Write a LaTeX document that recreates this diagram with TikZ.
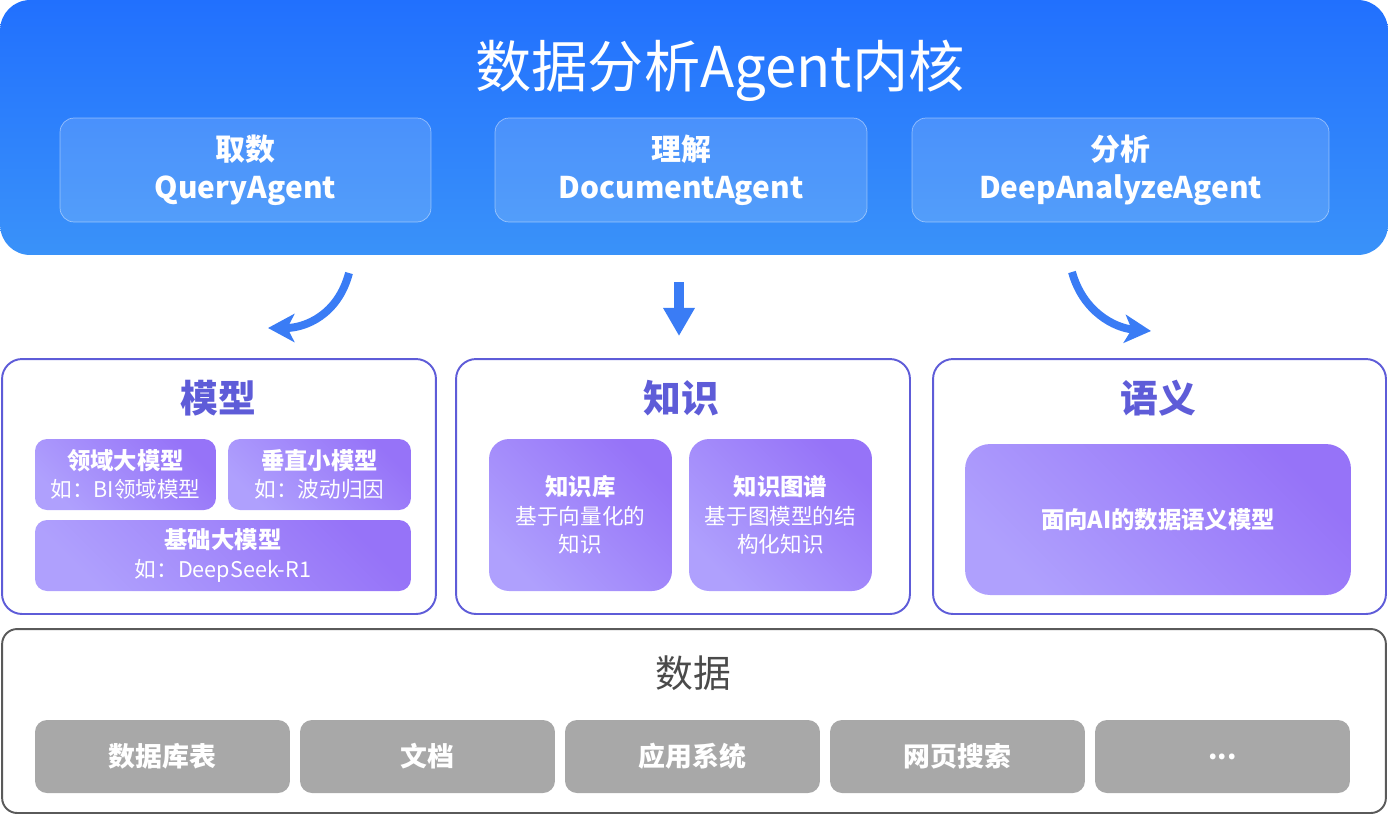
\documentclass[tikz,border=0pt]{standalone}
\usepackage{fontspec}
\setmainfont{Noto Sans CJK SC}
\usetikzlibrary{arrows.meta}

\definecolor{coretop}{HTML}{2170FE}
\definecolor{corebot}{HTML}{3A92F9}
\definecolor{layerline}{HTML}{5E5CD8}
\definecolor{purpledark}{HTML}{9673F8}
\definecolor{purplelight}{HTML}{AFA0FD}
\definecolor{arrowblue}{HTML}{3A7CF5}
\definecolor{datagray}{HTML}{A8A8A8}
\definecolor{dataline}{HTML}{5A5A5A}
\definecolor{datatext}{HTML}{4A4A4A}
\newcommand{\boxhead}[1]{{\bfseries\fontsize{13.3}{16.1}\selectfont #1}}

\begin{document}
\begin{tikzpicture}[x=0.02cm, y=-0.02cm,
  core/.style={rounded corners=0.6cm, top color=coretop, bottom color=corebot, inner sep=0pt},
  agentbox/.style={rounded corners=0.28cm, fill=white, fill opacity=0.14, draw=white, draw opacity=0.45,
    text opacity=1, text=white, align=center, minimum height=2.08cm, inner sep=0pt,
    font=\bfseries\fontsize{17}{21.5}\selectfont},
  layerbox/.style={rounded corners=0.4cm, draw=layerline, line width=1.1pt, minimum height=5.1cm, inner sep=0pt},
  layertitle/.style={text=layerline, font=\bfseries\fontsize{21.5}{26}\selectfont},
  purplebox/.style={rounded corners=0.24cm, top color=purpledark, bottom color=purplelight, shading angle=-45,
    text=white, align=center, inner sep=0pt, font=\fontsize{12.3}{16.1}\selectfont},
  curvearrow/.style={draw=arrowblue, line width=4.5pt, -{Stealth[length=15pt, width=16pt, inset=4pt]}},
  downarrow/.style={draw=arrowblue, line width=5.7pt, -{Triangle[length=16pt, width=17pt]}},
  graybox/.style={rounded corners=0.24cm, fill=datagray, text=white, minimum width=5.1cm, minimum height=1.46cm,
    inner sep=0pt, font=\bfseries\fontsize{15.3}{18}\selectfont}]

  \useasboundingbox (0,0) rectangle (1388,816);

  % 内核
  \node[core, minimum width=27.76cm, minimum height=5.1cm] (core) at (694,127.5) {};
  \node[text=white, font=\fontsize{32}{38}\selectfont] (title) at (720,71) {数据分析Agent内核};
  \node[agentbox, minimum width=7.42cm] (qa) at (245.5,170) {取数\\QueryAgent};
  \node[agentbox, minimum width=7.44cm] (da) at (681,170) {理解\\DocumentAgent};
  \node[agentbox, minimum width=8.34cm] (aa) at (1120.5,170) {分析\\DeepAnalyzeAgent};

  % 箭头
  \coordinate (l0) at (349,273);
  \coordinate (l1) at (268,328);
  \coordinate (m0) at (679,282);
  \coordinate (m1) at (679,336);
  \coordinate (r0) at (1072,272);
  \coordinate (r1) at (1151,331);
  \draw[curvearrow] (l0) .. controls (338,315) and (305,328) .. (l1);
  \draw[downarrow] (m0) -- (m1);
  \draw[curvearrow] (r0) .. controls (1083,312) and (1115,328) .. (r1);

  % 模型
  \node[layerbox, minimum width=8.68cm] (model) at (219,486.5) {};
  \node[layertitle] (modelt) at (218,398) {模型};
  \node[purplebox, minimum width=3.62cm, minimum height=1.42cm] (dom) at (125.5,474.5)
    {\boxhead{领域大模型}\\如：BI领域模型};
  \node[purplebox, minimum width=3.66cm, minimum height=1.42cm] (vert) at (319.5,474.5)
    {\boxhead{垂直小模型}\\如：波动归因};
  \node[purplebox, minimum width=7.52cm, minimum height=1.42cm] (base) at (223,555.5)
    {\boxhead{基础大模型}\\如：DeepSeek-R1};

  % 知识
  \node[layerbox, minimum width=9.08cm] (know) at (683,486.5) {};
  \node[layertitle] (knowt) at (681,398) {知识};
  \node[purplebox, rounded corners=0.4cm, minimum width=3.66cm, minimum height=3.04cm] (kb) at (580.5,515)
    {\boxhead{知识库}\\基于向量化的\\知识};
  \node[purplebox, rounded corners=0.4cm, minimum width=3.66cm, minimum height=3.04cm] (kg) at (780.5,515)
    {\boxhead{知识图谱}\\基于图模型的结\\构化知识};

  % 语义
  \node[layerbox, minimum width=9.06cm] (sem) at (1159.5,486.5) {};
  \node[layertitle] (semt) at (1158,398) {语义};
  \node[purplebox, rounded corners=0.5cm, minimum width=7.72cm, minimum height=3.02cm] (semm) at (1158,519.5)
    {\boxhead{面向AI的数据语义模型}};

  % 数据
  \node[draw=dataline, line width=1.1pt, rounded corners=0.3cm, minimum width=27.68cm, minimum height=3.68cm,
    inner sep=0pt] (data) at (694,721) {};
  \node[text=datatext, font=\fontsize{21.5}{26}\selectfont] (datat) at (693,673) {数据};
  \def\etcdots{...}
  \foreach \t [count=\i from 0] in {数据库表,文档,应用系统,网页搜索,\etcdots} {
    \node[graybox] (src\i) at (162.5+265*\i,756.5) {\t};
  }

\end{tikzpicture}
\end{document}
